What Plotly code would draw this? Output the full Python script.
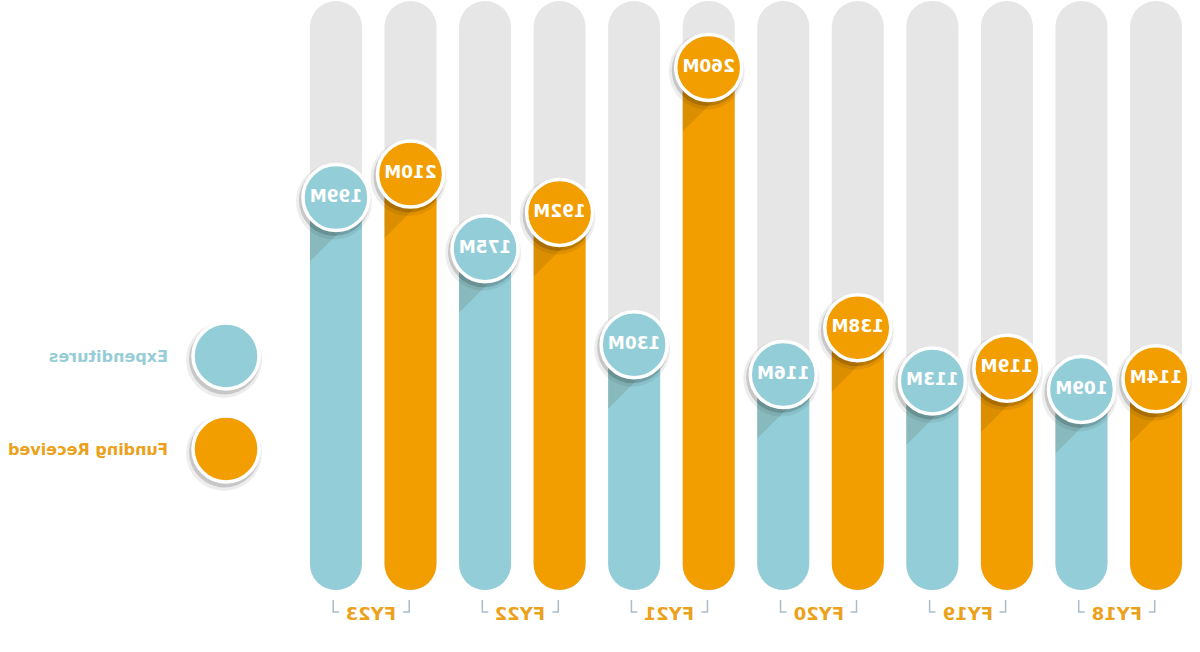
import plotly.graph_objects as go

# ---------------- data ----------------
years = ["FY18", "FY19", "FY20", "FY21", "FY22", "FY23"]
expenditures = [109, 113, 116, 130, 175, 199]
funding = [114, 119, 138, 260, 192, 210]
legend_labels = ["Expenditures", "Funding Received"]

# ---------------- styles / geometry ----------------
TEAL = "#93CED8"
ORANGE = "#F29D00"
GRAY = "#E6E6E6"
BRACKET = "#A9BDCC"
TEAL_TXT = "#97CDD6"
ORANGE_TXT = "#EBA11A"
FONT = "DejaVu Sans"

W, H = 1200, 652
PX_PER_X = 74.55      # pixels per bar slot
X0_PX = 44            # pixel column of slot 0
PX_PER_Y = 2.133      # pixels per million
Y0_PX = 622.0         # pixel row of value 0


def dx(px):
    return px / PX_PER_X


def dy(px):
    return px / PX_PER_Y


def yval(px_row):
    return (Y0_PX - px_row) / PX_PER_Y


x_range = [-X0_PX / PX_PER_X, (W - X0_PX) / PX_PER_X]
y_range = [yval(H), yval(0)]

BOTTOM = yval(590)
TOP = yval(1)
BAR_W = dx(52)

n = len(years)
fund_x = [2 * k for k in range(n)]
exp_x = [2 * k + 1 for k in range(n)]
all_x = sorted(fund_x + exp_x)

fig = go.Figure()

# grey background pills
fig.add_trace(go.Bar(x=all_x, y=[TOP - BOTTOM] * len(all_x), base=[BOTTOM] * len(all_x),
                     width=BAR_W, marker=dict(color=GRAY, line=dict(width=0)),
                     hoverinfo="skip", showlegend=False))

# coloured bars: from value down to the bottom (rounded bottom)
for xs, vals, col in [(fund_x, funding, ORANGE), (exp_x, expenditures, TEAL)]:
    fig.add_trace(go.Bar(x=xs, y=[BOTTOM - v for v in vals], base=vals,
                         width=BAR_W, marker=dict(color=col, line=dict(width=0)),
                         hoverinfo="skip", showlegend=False))

# long diagonal shading below bubbles
sx, sy = [], []
for xs, vals in [(fund_x, funding), (exp_x, expenditures)]:
    for cx, v in zip(xs, vals):
        sx += [cx - dx(26), cx + dx(26), cx + dx(26), cx - dx(26), cx - dx(26), None]
        sy += [v, v, v - dy(64), v - dy(12), v, None]
fig.add_trace(go.Scatter(x=sx, y=sy, mode="lines", fill="toself",
                         fillcolor="rgba(60,40,0,0.12)", line=dict(width=0),
                         hoverinfo="skip", showlegend=False))

# bubbles (shadow + circle + label)
leg_x = (974 - X0_PX) / PX_PER_X
leg_y = [yval(356), yval(449)]


def bubbles(xs, ys, col, texts):
    fig.add_trace(go.Scatter(x=[x + dx(2) for x in xs], y=[y - dy(4) for y in ys],
                             mode="markers",
                             marker=dict(size=76, color="rgba(0,0,0,0.07)", line=dict(width=0)),
                             hoverinfo="skip", showlegend=False))
    fig.add_trace(go.Scatter(x=[x + dx(1.5) for x in xs], y=[y - dy(3) for y in ys],
                             mode="markers",
                             marker=dict(size=71, color="rgba(0,0,0,0.16)", line=dict(width=0)),
                             hoverinfo="skip", showlegend=False))
    fig.add_trace(go.Scatter(x=xs, y=ys, mode="markers+text" if texts else "markers",
                             text=texts, textposition="middle center",
                             textfont=dict(family=FONT, size=17, color="white", weight="bold"),
                             marker=dict(size=66, color=col, line=dict(color="white", width=3.5)),
                             hoverinfo="skip", showlegend=False))


bubbles(fund_x, funding, ORANGE, [f"{v}M" for v in funding])
bubbles(exp_x, expenditures, TEAL, [f"{v}M" for v in expenditures])

# legend circles
bubbles([leg_x], [leg_y[0]], TEAL, None)
bubbles([leg_x], [leg_y[1]], ORANGE, None)

annotations = []
for lbl, yy, col in zip(legend_labels, leg_y, [TEAL_TXT, ORANGE_TXT]):
    annotations.append(dict(x=(1030 - X0_PX) / PX_PER_X, y=yy, text=lbl, showarrow=False,
                            xanchor="left", yanchor="middle",
                            font=dict(family=FONT, size=16, color=col, weight="bold")))

# year labels with brackets
shapes = []
for k, yr in enumerate(years):
    c = 2 * k + 0.5 + dx(2)
    annotations.append(dict(x=c, y=yval(613), text=yr, showarrow=False,
                            xanchor="center", yanchor="middle",
                            font=dict(family=FONT, size=18, color=ORANGE_TXT, weight="bold")))
    for sgn in (-1, 1):
        xv = c + sgn * dx(38)
        xf = c + sgn * dx(32)
        shapes.append(dict(type="path", xref="x", yref="y",
                           path=f"M {xv} {yval(600)} L {xv} {yval(612)} L {xf} {yval(612)}",
                           line=dict(color=BRACKET, width=1.5)))

fig.update_layout(
    width=W, height=H,
    margin=dict(l=0, r=0, t=0, b=0),
    paper_bgcolor="white", plot_bgcolor="white",
    barmode="overlay", barcornerradius=26,
    xaxis=dict(range=x_range, visible=False, fixedrange=True),
    yaxis=dict(range=y_range, visible=False, fixedrange=True),
    showlegend=False,
    annotations=annotations, shapes=shapes,
)

post = ("var gd=document.getElementById('{plot_id}');"
        "gd.style.transform='scaleX(-1)';"
        "document.body.style.margin='0';")
fig.write_html("out.html", config={"displayModeBar": False}, post_script=post)
